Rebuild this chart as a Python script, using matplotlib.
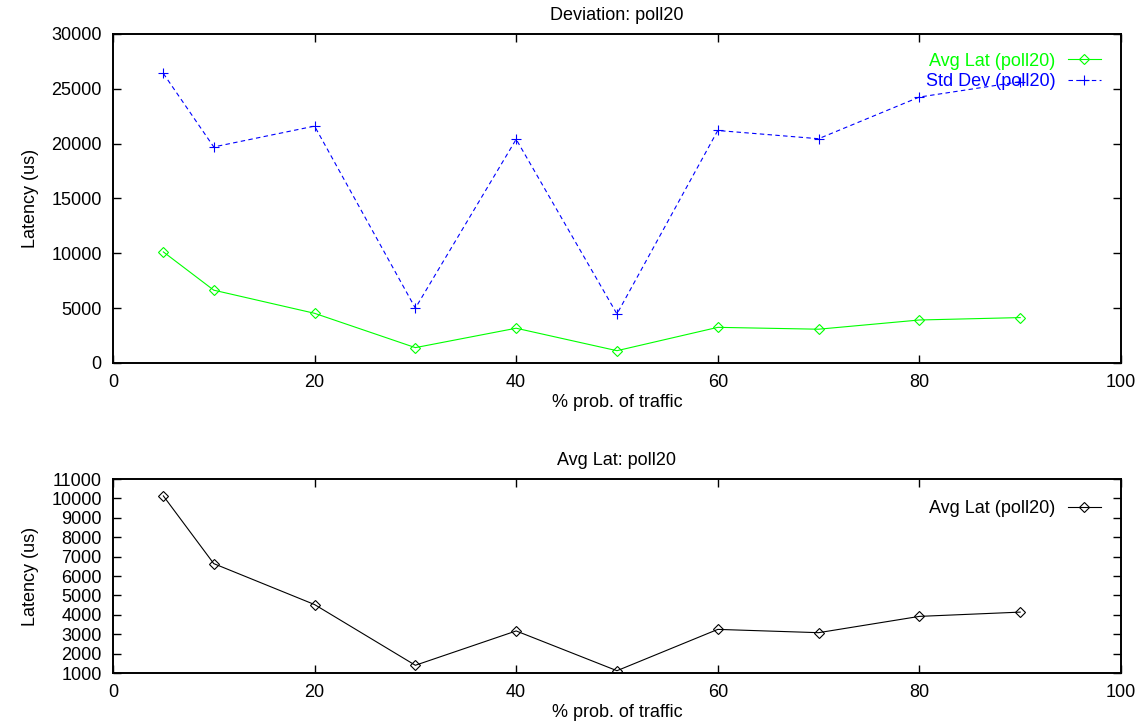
import numpy as np
import matplotlib.pyplot as plt

plt.rcParams['font.family'] = ['Liberation Sans', 'DejaVu Sans']

traffic = [5, 10, 20, 30, 40, 50, 60, 70, 80, 90]
avg_lat = [10130, 6640, 4530, 1400, 3170, 1120, 3250, 3080, 3920, 4140]
std_dev = [26400, 19700, 21600, 5000, 20400, 4470, 21200, 20450, 24250, 25650]

fs = 13
fig = plt.figure(figsize=(11.42, 7.28), dpi=100)

def style(ax):
    ax.tick_params(direction='in', length=6, width=1, top=True, right=True,
                   labelsize=fs, pad=8)
    for s in ax.spines.values():
        s.set_linewidth(1.4)
    ax.set_xlim(0, 100)
    ax.set_xticks([0, 20, 40, 60, 80, 100])
    ax.set_xlabel('% prob. of traffic', fontsize=fs, labelpad=2)
    ax.set_ylabel('Latency (us)', fontsize=fs, labelpad=9)

# top: deviation
ax1 = fig.add_axes([0.0989, 0.5014, 0.8827, 0.4519])
ax1.plot(traffic, avg_lat, color='#00ff00', lw=0.8, marker='D', ms=5.5,
         mfc='none', mec='#00ff00', mew=0.8, label='Avg Lat (poll20)')
ax1.plot(traffic, std_dev, color='#0000ff', lw=0.8, ls=(0, (4, 3)), marker='+',
         ms=7, mew=0.8, label='Std Dev (poll20)')
ax1.set_ylim(0, 30000)
ax1.set_yticks(np.arange(0, 30001, 5000))
style(ax1)
ax1.set_title('Deviation: poll20', fontsize=fs, pad=10)
ax1.legend(loc='upper right', bbox_to_anchor=(0.987, 0.965), frameon=False,
           markerfirst=False, fontsize=fs, labelcolor='linecolor',
           handlelength=1.8, handletextpad=0.7, labelspacing=0.2,
           borderaxespad=0)

# bottom: average latency
ax2 = fig.add_axes([0.0989, 0.0755, 0.8827, 0.2665])
ax2.plot(traffic, avg_lat, color='black', lw=0.8, marker='D', ms=5.5,
         mfc='none', mec='black', mew=0.8, label='Avg Lat (poll20)')
ax2.set_ylim(1000, 11000)
ax2.set_yticks(np.arange(1000, 11001, 1000))
style(ax2)
ax2.set_title('Avg Lat: poll20', fontsize=fs, pad=10)
ax2.legend(loc='upper right', bbox_to_anchor=(0.987, 0.93), frameon=False,
           markerfirst=False, fontsize=fs, handlelength=1.8,
           handletextpad=0.7, borderaxespad=0)

fig.savefig('out.png', dpi=100)
